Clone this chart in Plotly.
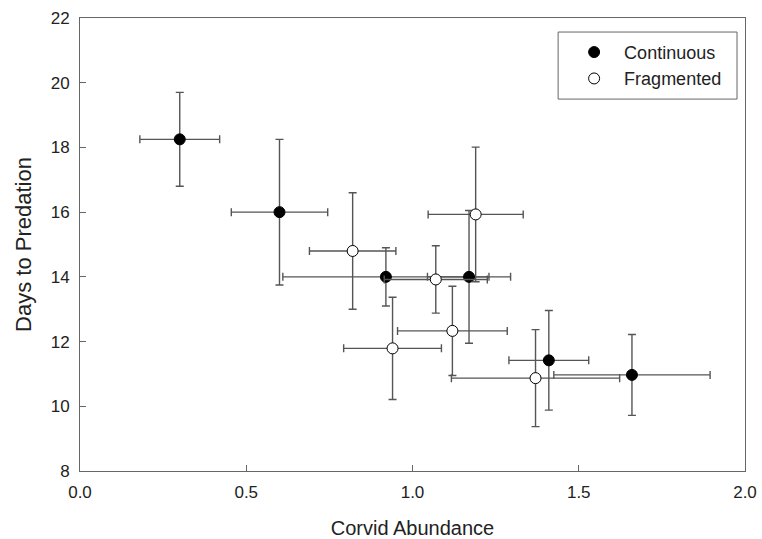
import plotly.graph_objects as go

# Continuous sites
cont_x = [0.30, 0.60, 0.92, 1.17, 1.41, 1.66]
cont_y = [18.25, 16.0, 14.0, 14.0, 11.42, 10.97]
cont_xerr = [0.12, 0.145, 0.31, 0.125, 0.12, 0.235]
cont_yerr = [1.45, 2.25, 0.90, 2.05, 1.54, 1.25]

# Fragmented sites
frag_x = [0.82, 1.07, 1.19, 1.12, 0.94, 1.37]
frag_y = [14.80, 13.92, 15.93, 12.33, 11.79, 10.87]
frag_xerr = [0.13, 0.155, 0.143, 0.165, 0.147, 0.253]
frag_yerr = [1.80, 1.04, 2.08, 1.38, 1.58, 1.50]

x_ticks = [0.0, 0.5, 1.0, 1.5, 2.0]
y_ticks = [8, 10, 12, 14, 16, 18, 20, 22]

err_color = "#555555"
axis_color = "#666666"
font_family = "Liberation Sans, Arial, sans-serif"

fig = go.Figure()

def add_series(x, y, xe, ye, name, fill):
    fig.add_trace(go.Scatter(
        x=x, y=y, mode="markers", name=name,
        marker=dict(size=11, color=fill, line=dict(color="black", width=1)),
        error_x=dict(type="data", array=xe, visible=True, color=err_color,
                     thickness=1.4, width=4),
        error_y=dict(type="data", array=ye, visible=True, color=err_color,
                     thickness=1.4, width=4),
    ))

add_series(cont_x, cont_y, cont_xerr, cont_yerr, "Continuous", "black")
add_series(frag_x, frag_y, frag_xerr, frag_yerr, "Fragmented", "white")

# legend frame
fig.add_shape(type="rect", xref="paper", yref="paper",
              x0=0.719, x1=0.988, y0=0.821, y1=0.969,
              line=dict(color=axis_color, width=1), fillcolor="rgba(0,0,0,0)",
              layer="above")

fig.update_layout(
    width=762, height=539,
    margin=dict(l=80, r=17, t=18, b=68),
    paper_bgcolor="white", plot_bgcolor="white",
    font=dict(family=font_family, size=17, color="#222222"),
    legend=dict(
        x=0.728, y=0.965, xanchor="left", yanchor="top",
        bgcolor="rgba(0,0,0,0)", borderwidth=0,
        font=dict(size=18, color="#222222"),
        itemwidth=50, tracegroupgap=0,
    ),
    showlegend=True,
)

fig.update_xaxes(
    range=[0, 2], tickvals=x_ticks, ticktext=[f"{v:.1f}" for v in x_ticks],
    showgrid=False, zeroline=False, automargin=False,
    showline=True, linecolor=axis_color, linewidth=1, mirror=True,
    ticks="inside", ticklen=6, tickcolor=axis_color,
    ticklabelstandoff=6, ticklabeloverflow="allow",
    title=dict(text="Corvid Abundance", font=dict(size=20), standoff=20),
)
fig.update_yaxes(
    range=[8, 22], tickvals=y_ticks, ticktext=[str(v) for v in y_ticks],
    showgrid=False, zeroline=False, automargin=False,
    showline=True, linecolor=axis_color, linewidth=1, mirror=True,
    ticks="inside", ticklen=6, tickcolor=axis_color,
    ticklabelstandoff=6, ticklabeloverflow="allow",
    title=dict(text="Days to Predation", font=dict(size=22), standoff=12),
)

fig.write_html("out.html", config={"displayModeBar": False},
               post_script="document.body.style.margin='0';")
